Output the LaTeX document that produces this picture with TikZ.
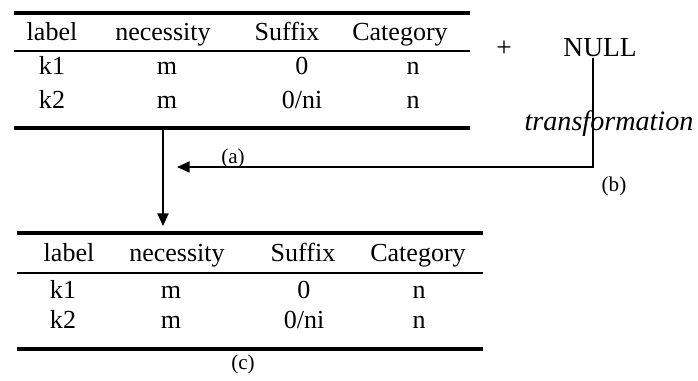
\documentclass[tikz,border=0pt]{standalone}
\usepackage{fontspec}
\setmainfont{Liberation Serif}
\usetikzlibrary{arrows.meta}

\begin{document}
\begin{tikzpicture}[
    x=0.025cm, y=-0.025cm,
    cell/.style      = {font=\fontsize{18.5}{21}\selectfont, inner sep=0pt, anchor=base},
    tag/.style       = {font=\fontsize{15}{17}\selectfont, inner sep=0pt, anchor=base},
    rulethick/.style = {line width=2.2pt},
    rulethin/.style  = {line width=1pt},
    link/.style      = {line width=1pt},
    tip/.style       = {-{Triangle[length=9pt,width=8pt]}},
  ]
  \useasboundingbox (0,0) rectangle (698,381);
  % table (a)
  \draw[rulethick] (14,13) -- (470,13);
  \draw[rulethin] (14,51) -- (470,51);
  \draw[rulethick] (14,128) -- (470,128);
  \foreach \name/\x/\txt in {label/52/label, nec/163/necessity, suf/287/Suffix, cat/400/Category} {
    \node[cell] (a-\name) at (\x,41) {\txt};
  }
  \foreach \row/\y/\suf in {1/75/0, 2/108/{0/ni}} {
    \node[cell] (a-k\row) at (52,\y) {k\row};
    \node[cell] (a-m\row) at (167,\y) {m};
    \node[cell] (a-s\row) at (302,\y) {\suf};
    \node[cell] (a-n\row) at (413,\y) {n};
  }
  \node[tag] (a-tag) at (233,163) {(a)};
  % + NULL (b)
  \node[cell, font=\fontsize{19.5}{22}\selectfont] (plus) at (504,57) {+};
  \node[cell, font=\fontsize{19.5}{22}\selectfont] (null) at (600,57) {NULL};
  \node[cell, font=\fontsize{20}{22}\selectfont\itshape] (trans) at (609,131) {transformation};
  \node[tag] (b-tag) at (614,191) {(b)};
  \coordinate (b-turn) at (593,167);
  \coordinate (b-end) at (177,167);
  \draw[link, tip] (null.south -| b-turn) -- (b-turn) -- (b-end);
  % table (c)
  \draw[rulethick] (17,233) -- (483,233);
  \draw[rulethin] (17,273) -- (483,273);
  \draw[rulethick] (17,349) -- (483,349);
  \foreach \name/\x/\txt in {label/69/label, nec/177/necessity, suf/303/Suffix, cat/418/Category} {
    \node[cell] (c-\name) at (\x,261) {\txt};
  }
  \foreach \row/\y/\suf in {1/298/0, 2/328/{0/ni}} {
    \node[cell] (c-k\row) at (63,\y) {k\row};
    \node[cell] (c-m\row) at (171,\y) {m};
    \node[cell] (c-s\row) at (304,\y) {\suf};
    \node[cell] (c-n\row) at (419,\y) {n};
  }
  \node[tag] (c-tag) at (243,369) {(c)};
  % (a) -> (c)
  \coordinate (a-out) at (163,129);
  \coordinate (c-in) at (163,226);
  \draw[link, tip] (a-out) -- (c-in);
\end{tikzpicture}
\end{document}
